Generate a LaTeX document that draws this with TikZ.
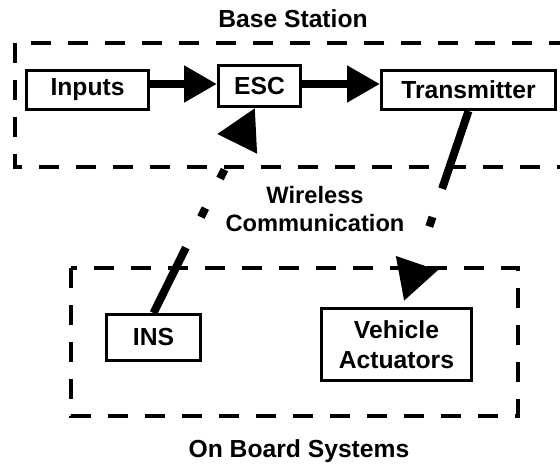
\documentclass[tikz,border=0pt]{standalone}
\usepackage{fontspec}
\setmainfont{Liberation Sans}
\usetikzlibrary{arrows.meta}

\begin{document}
\begin{tikzpicture}[x=0.75pt,y=-0.75pt,
	block/.style={draw,line width=2.25pt,inner sep=0pt,align=center,
		font=\bfseries\fontsize{18.5}{22.5}\selectfont},
	group/.style={line width=3pt,dash pattern=on 15pt off 12.75pt},
	label/.style={inner sep=0pt,font=\bfseries\fontsize{18.5}{22.5}\selectfont},
	wire/.style={line width=6pt,-{Triangle[length=24.75pt,width=26.25pt]}},
	radio/.style={line width=6pt,-{Triangle[length=30pt,width=31.5pt]}}]
	\useasboundingbox (0,0) rectangle (560,464);

	% base station
	\draw[group] (15,43) rectangle (575,167);
	\node[label,anchor=base] (basetitle) at (293,27) {Base Station};
	\node[block,minimum width=91.5pt,minimum height=29.25pt] (inputs) at (87.5,90) {Inputs};
	\node[block,minimum width=61.5pt,minimum height=30.75pt] (esc) at (259.5,86) {ESC};
	\node[block,minimum width=130.5pt,minimum height=29.25pt] (tx) at (468.5,90) {Transmitter};
	\draw[wire] ([yshift=4.5pt]inputs.east) -- ([yshift=1.5pt]esc.west);
	\draw[wire] ([yshift=1.5pt]esc.east) -- ([yshift=4.5pt]tx.west);

	% on board systems
	\draw[group] (71,268) rectangle (518,416);
	\node[label,anchor=base] (boardtitle) at (299,457) {On Board Systems};
	\node[block,minimum width=70.5pt,minimum height=34.5pt] (ins) at (153.5,337.5) {INS};
	\node[block,minimum width=112.5pt,minimum height=54pt] (act) at (396.5,344.5) {Vehicle\\Actuators};

	% radio links
	\node[label,align=center,font=\bfseries\fontsize{17.75}{21}\selectfont] (wireless) at (315,209) {Wireless\\Communication};
	\draw[radio,dash pattern=on 54.75pt off 25.5pt on 7.5pt off 24.75pt on 7.5pt off 150pt]
		(ins.north) -- ([xshift=-3.4pt]esc.south);
	\draw[radio,dash pattern=on 61.5pt off 22.5pt on 7.5pt off 150pt]
		(tx.south) -- ([xshift=5.6pt,yshift=4.5pt]act.north);
\end{tikzpicture}
\end{document}
